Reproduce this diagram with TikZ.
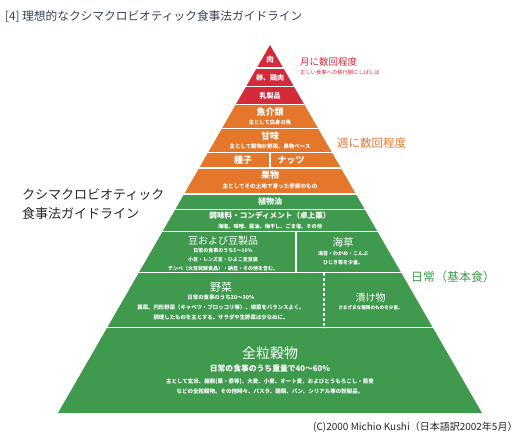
\documentclass[tikz,border=0pt]{standalone}
\usepackage{fontspec}
\setmainfont{Noto Sans CJK JP}
\newcommand{\fsz}[1]{\fontsize{#1}{#1}\selectfont}
\definecolor{kred}{HTML}{D42A3A}
\definecolor{korange}{HTML}{E5772B}
\definecolor{kgreen}{HTML}{3F9A4E}
\definecolor{ktitle}{HTML}{34405A}
\tikzset{
  sep/.style={white, line width=1.5pt},
  bandtxt/.style={white, inner sep=0pt, align=center},
  sidelbl/.style={inner sep=0pt, anchor=west},
}
\begin{document}
\begin{tikzpicture}[x=1pt,y=-1pt]
\useasboundingbox (0,0) rectangle (524,444);
\coordinate (apex) at (270,45);
\coordinate (bl) at (58,413);
\coordinate (br) at (482,413);
\begin{scope}
\clip (apex) -- (br) -- (bl) -- cycle;
\fill[kred] (0,40) rectangle (524,104.5);
\fill[korange] (0,104.5) rectangle (524,193.5);
\fill[kgreen] (0,193.5) rectangle (524,414);
\foreach \yy in {68,86.5,104.5,128.5,152.5,168,209.5,231.5,272.5,327.5}
  \draw[sep] (0,\yy) -- (524,\yy);
\draw[white, line width=2pt] (0,193.5) -- (524,193.5);
\draw[sep] (270,152.5) -- (270,168);
\draw[sep] (296,231.5) -- (296,272.5);
\draw[white, line width=1.2pt, dash pattern=on 3pt off 2pt] (324,272.5) -- (324,327.5);
\end{scope}

% red section
\node[bandtxt, font=\fsz{7.5}\bfseries] (niku) at (270,60) {肉};
\node[bandtxt, font=\fsz{7}\bfseries] (tamago) at (270,77.5) {卵、鶏肉};
\node[bandtxt, font=\fsz{7}\bfseries] (nyu) at (270,95.5) {乳製品};

% orange section
\node[bandtxt, font=\fsz{9}\bfseries] (gyo) at (270,112) {魚介類};
\node[bandtxt, font=\fsz{5.3}\bfseries] (gyos) at (270,122.5) {主として白身の魚};
\node[bandtxt, font=\fsz{9}\bfseries] (ama) at (270,136) {甘味};
\node[bandtxt, font=\fsz{5.4}\bfseries] (amas) at (270,146.5) {主として穀物か野菜、果物ベース};
\node[bandtxt, font=\fsz{9}\bfseries] (shushi) at (243,160.5) {種子};
\node[bandtxt, font=\fsz{9}\bfseries] (nuts) at (291,160.5) {ナッツ};
\node[bandtxt, font=\fsz{9}\bfseries] (kuda) at (270,175.5) {果物};
\node[bandtxt, font=\fsz{5.6}\bfseries] (kudas) at (270,186) {主としてその土地で育った季節のもの};

% green section
\node[bandtxt, font=\fsz{8}\bfseries] (abura) at (270,201.5) {植物油};
\node[bandtxt, font=\fsz{7.6}\bfseries] (chomi) at (270,216) {調味料・コンディメント（卓上薬）};
\node[bandtxt, font=\fsz{5.2}\bfseries] (chomis) at (270,226) {海塩、味噌、醤油、梅干し、ごま塩、その他};
\node[bandtxt, font=\fsz{10}] (mame) at (223,240.5) {豆および豆製品};
\node[bandtxt, font={\fontsize{5}{9}\selectfont\bfseries}] (mames) at (223,259.5) {日常の食事のうち5～10\%\\小豆・レンズ豆・ひよこ豆豆腐\\テンペ（大豆発酵食品）・納豆・その他を含む。};
\node[bandtxt, font=\fsz{10.5}] (kaiso) at (343,243) {海草};
\node[bandtxt, font={\fontsize{5}{9}\selectfont\bfseries}] (kaisos) at (343,258.5) {海苔・わかめ・こんぶ\\ひじき等を少量。};
\node[bandtxt, font=\fsz{11}] (yasai) at (221,287) {野菜};
\node[bandtxt, font={\fontsize{5.4}{10}\selectfont\bfseries}] (yasais) at (221,307.5) {日常の食事のうち20～30\%\\葉菜、円形野菜（キャベツ・ブロッコリ等）、根菜をバランスよく。\\調理したものを主とする。サラダや生野菜は少なめに。};
\node[bandtxt, font=\fsz{10}] (tsuke) at (370.5,297.5) {漬け物};
\node[bandtxt, font=\fsz{4.6}\bfseries] (tsukes) at (370.5,307.5) {さまざまな種類のものを少量。};
\node[bandtxt, font=\fsz{14}] (koku) at (270,353) {全粒穀物};
\node[bandtxt, font=\fsz{7.8}\bfseries] (kokus) at (270,368.5) {日常の食事のうち重量で40～60\%};
\node[bandtxt, font={\fontsize{5.5}{10}\selectfont\bfseries}] (kokul) at (270,386.5) {主として玄米、雑穀(粟・黍等)、大麦、小麦、オート麦、およびとうもろこし・蕎麦\\などの全粒穀物。その他時々、パスタ、麺類、パン、シリアル等の粉製品。};

% side labels
\node[sidelbl, text=ktitle, font=\fsz{11.7}] (title) at (5,17) {[4] 理想的なクシマクロビオティック食事法ガイドライン};
\node[sidelbl, text=kred, font=\fsz{9.5}] (month) at (300,61.5) {月に数回程度};
\node[sidelbl, text=kred, font=\fsz{5.3}] (months) at (300,72) {正しい食事への移行期にしばしば};
\node[sidelbl, text=korange, font=\fsz{11.5}] (week) at (337,143) {週に数回程度};
\node[sidelbl, text=black!85, font=\fsz{13}] (kushi1) at (22,195) {クシマクロビオティック};
\node[sidelbl, text=black!85, font=\fsz{13}] (kushi2) at (22,213.5) {食事法ガイドライン};
\node[sidelbl, text=kgreen, font=\fsz{12}] (daily) at (411,277) {日常（基本食）};
\node[sidelbl, text=black!85, font=\fsz{10}] (copy) at (313,427.5) {(C)2000 Michio Kushi（日本語訳2002年5月）};
\end{tikzpicture}
\end{document}
